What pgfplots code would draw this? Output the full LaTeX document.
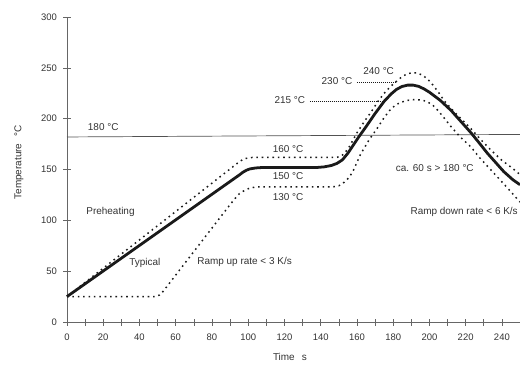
\documentclass[border=0pt]{standalone}
\usepackage{fontspec}
\setmainfont{Liberation Sans}
\usepackage{pgfplots}
\pgfplotsset{compat=1.18}
\definecolor{ink}{HTML}{1A1A1A}
\definecolor{txt}{HTML}{333333}
\definecolor{axc}{HTML}{666666}
\begin{document}
\begin{tikzpicture}
\begin{axis}[
  scale only axis, width=453bp, height=305bp,
  xmin=0, xmax=250, ymin=0, ymax=300,
  axis x line*=bottom, axis y line*=left,
  axis line style={axc, line width=0.7pt},
  xtick={0,20,...,240}, minor xtick={10,30,...,230},
  ytick={0,50,...,300},
  tick align=center, major tick length=7bp, minor tick length=7bp,
  every tick/.style={axc, line width=0.6pt},
  tick label style={font=\fontsize{9.5}{11}\selectfont, text=txt},
  /pgf/number format/assume math mode=true,
  xticklabel style={yshift=-5bp},
  yticklabel style={xshift=-3bp},
  clip=false,
  line join=round,
]
\coordinate (O) at (axis cs:0,0);
% 180 reference line
\addplot[axc!80!black, line width=0.7pt] coordinates {(0,182) (250,184.5)};
% short reference dotted lines
\addplot[ink, line width=0.6pt, dash pattern=on 0.8pt off 1.2pt] coordinates {(134,217.5) (174,217.5)};
\addplot[ink, line width=0.6pt, dash pattern=on 0.8pt off 1.2pt] coordinates {(160,235.5) (181,235.5)};
% upper limit
\addplot[ink, line width=1.5pt, dash pattern=on 1.6pt off 3.8pt] coordinates {
(0,25) (95,157.5) (97,159.8) (99,161) (102,161.8) (106,162) (149,162) (151,163) (153,165.5) (156,173) (160,186) (164,197) (168,207) (172,218) (176,227) (180,234) (184,240) (187,243.5) (190,245) (193,245) (196,243) (199,239) (202,233) (205,226) (208,218) (213,208) (218,199) (223,190) (228,180) (234,169) (240,159) (246,151) (250,145)};
% lower limit
\addplot[ink, line width=1.5pt, dash pattern=on 1.6pt off 3.8pt] coordinates {
(0,25) (49,25) (51,26.5) (53,30) (90,115.5) (93,122) (95,126) (98,129.5) (101,131.8) (105,133) (147,133) (150,134) (152,136) (154,139) (156,143) (158,149) (160,157) (162,165) (164,171) (167,180) (171,190) (175,201) (178,208) (181,213) (184,216) (188,218) (192,218.8) (196,218.3) (199,216.5) (202,213) (205,207.5) (208,201) (212,192) (217,182) (223,172) (228,161) (234,149.5) (243,132) (250,118)};
% typical
\addplot[ink, line width=2.8pt] coordinates {
(0,25) (95,144.5) (97,147.2) (99,149.3) (101,150.6) (104,151.5) (108,152) (138,152) (142,152.6) (146,154) (149,156) (152,159.5) (155,166) (158,174) (161,182) (165,192) (170,205) (175,217) (179,224.5) (182,229) (185,231.7) (188,233) (191,233) (194,231.8) (197,229.3) (200,226) (203,222) (206,218) (212,208) (218,196) (223,186) (228,175) (232,166) (237,156) (241,148) (246,140) (250,135)};
% labels
\begin{scope}[every node/.style={font=\fontsize{10}{12}\selectfont, text=txt, inner sep=0pt}]
\node at (axis cs:20,191.5) {180 °C};
\node at (axis cs:24,108) {Preheating};
\node at (axis cs:43,58) {Typical};
\node at (axis cs:98,59) {Ramp up rate < 3 K/s};
\node at (axis cs:122,170) {160 °C};
\node at (axis cs:122,144) {150 °C};
\node at (axis cs:122,123) {130 °C};
\node at (axis cs:123,218) {215 °C};
\node at (axis cs:149,237) {230 °C};
\node at (axis cs:172,247) {240 °C};
\node at (axis cs:203,151) {ca. 60 s > 180 °C};
\node[anchor=west] at (axis cs:189.5,108) {Ramp down rate < 6 K/s};
\node[rotate=90] at (axis cs:-26.5,157) {Temperature\hspace{7bp}°C};
\node at (axis cs:123,-34.4) {Time\hspace{7bp}s};
\end{scope}
\end{axis}
\pgfresetboundingbox
\path (O) ++(-67bp,-43bp) rectangle ++(520bp,365bp);
\end{tikzpicture}
\end{document}
